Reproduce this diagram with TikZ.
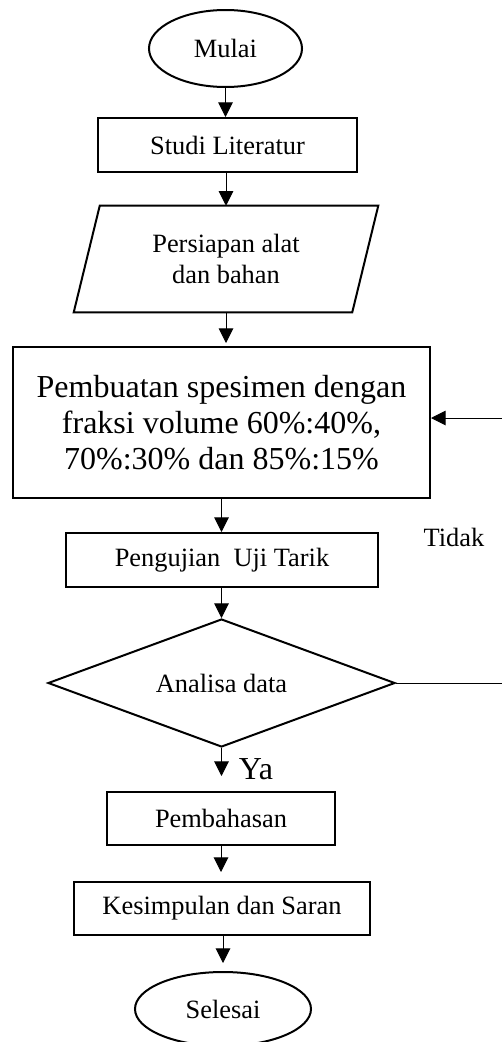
\documentclass[tikz,border=0pt]{standalone}
\usepackage{fontspec}
\setmainfont{Liberation Serif}
\usetikzlibrary{shapes.geometric,arrows.meta}
\def\u{0.75pt}
\begin{document}
\begin{tikzpicture}[x=0.75pt,y=-0.75pt,
  small/.style={font=\fontsize{19.8}{23}\selectfont},
  big/.style={font=\fontsize{24}{27}\selectfont},
  term/.style={ellipse,draw,line width=1.5pt,inner sep=0pt,small},
  proc/.style={rectangle,draw,line width=1.5pt,inner sep=0pt,small},
  flow/.style={line width=0.75pt,-{Triangle[width=11pt,length=11pt]}}]
\useasboundingbox (0,0) rectangle (502,1042);
\node[term,minimum width=153*\u,minimum height=77*\u] (mulai) at (225.5,48.5) {Mulai};
\node[proc,minimum width=259*\u,minimum height=54*\u] (studi) at (227.5,145) {Studi Literatur};
\node[small,inner sep=0pt,minimum width=278*\u,minimum height=106*\u,align=center] (alat) at (226,259) {Persiapan alat\\dan bahan};
\draw[line width=1.5pt] ([xshift=13*\u]alat.north west) -- ([xshift=13*\u]alat.north east) -- ([xshift=-13*\u]alat.south east) -- ([xshift=-13*\u]alat.south west) -- cycle;
\node[proc,big,minimum width=417*\u,minimum height=151*\u,align=center] (buat) at (221.5,422.5) {Pembuatan spesimen dengan\\fraksi volume 60\%:40\%,\\70\%:30\% dan 85\%:15\%};
\node[proc,minimum width=312*\u,minimum height=54*\u] (uji) at (222,560) {Pengujian\ \ Uji Tarik};
\node[diamond,draw,line width=1.5pt,inner sep=0pt,aspect=2.71,minimum width=347*\u,minimum height=128*\u,small] (analisa) at (221.5,683) {Analisa data};
\node[proc,minimum width=228*\u,minimum height=53*\u] (bahas) at (221,818.5) {Pembahasan};
\node[proc,minimum width=296*\u,minimum height=53*\u] (simpul) at (222,908.5) {Kesimpulan dan Saran};
\node[term,minimum width=176*\u,minimum height=74*\u] (selesai) at (223,1009) {Selesai};
\node[small] (tidak) at (454,537) {Tidak};
\node[big] (ya) at (256,769.5) {Ya};
\coordinate (fr) at (505,683);
\coordinate (fu) at (505,418);
\draw[flow] (mulai.south) -- (mulai.south |- studi.north);
\draw[flow] (studi.south -| alat.north) -- (alat.north);
\draw[flow,shorten >=3*\u] (alat.south) -- (alat.south |- buat.north);
\draw[flow] (buat.south) -- (buat.south |- uji.north);
\draw[flow] (uji.south -| analisa.north) -- (analisa.north);
\draw[flow,shorten >=15*\u] (analisa.south) -- (analisa.south |- bahas.north);
\draw[flow,shorten >=9*\u] (bahas.south) -- (bahas.south |- simpul.north);
\draw[flow,shorten >=8*\u] (simpul.south -| selesai.north) -- (selesai.north);
\draw[flow] (analisa.east) -- (fr) -- (fu) -- (buat.east |- fu);
\end{tikzpicture}
\end{document}
